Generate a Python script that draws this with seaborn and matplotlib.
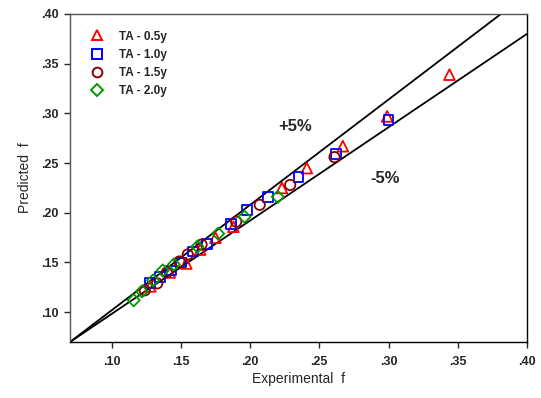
import matplotlib
matplotlib.use("Agg")
import matplotlib.pyplot as plt
from matplotlib.lines import Line2D
from matplotlib.ticker import FuncFormatter
import numpy as np
import pandas as pd
import seaborn as sns

# ---- data ----
ta05_x = [0.344, 0.299, 0.267, 0.241, 0.223, 0.188, 0.175, 0.164, 0.154, 0.142, 0.128]
ta05_y = [0.339, 0.297, 0.267, 0.245, 0.225, 0.186, 0.175, 0.163, 0.149, 0.140, 0.126]

ta10_x = [0.300, 0.262, 0.235, 0.213, 0.198, 0.186, 0.169, 0.159, 0.150, 0.143, 0.135, 0.128]
ta10_y = [0.293, 0.259, 0.236, 0.216, 0.203, 0.189, 0.169, 0.161, 0.150, 0.142, 0.135, 0.129]

ta15_x = [0.261, 0.229, 0.207, 0.190, 0.165, 0.155, 0.149, 0.140, 0.133, 0.124]
ta15_y = [0.256, 0.228, 0.208, 0.191, 0.168, 0.158, 0.151, 0.140, 0.129, 0.122]

ta20_x = [0.220, 0.196, 0.177, 0.162, 0.145, 0.137, 0.130, 0.122, 0.116]
ta20_y = [0.216, 0.196, 0.179, 0.166, 0.148, 0.142, 0.132, 0.121, 0.112]

labels = ["TA - 0.5y", "TA - 1.0y", "TA - 1.5y", "TA - 2.0y"]
markers = ["^", "s", "o", "D"]
colors = ["#ff0000", "#0000ff", "#8b0000", "#009900"]
sizes = [60, 50, 55, 38]

ticks = [0.10, 0.15, 0.20, 0.25, 0.30, 0.35, 0.40]
lim = (0.07, 0.40)
# +/-5% bounding lines: start at the axes corner, end at +5% / -5% of the axis max
band_x = [0.07, 0.40]
upper_y = [0.07, 0.42]
lower_y = [0.07, 0.38]

frames = []
for lab, xs, ys in zip(labels, [ta05_x, ta10_x, ta15_x, ta20_x], [ta05_y, ta10_y, ta15_y, ta20_y]):
    frames.append(pd.DataFrame({"exp": xs, "pred": ys, "series": lab}))
df = pd.concat(frames, ignore_index=True)

sns.set_style("white")
plt.rcParams["font.family"] = ["Liberation Sans", "DejaVu Sans"]

fig = plt.figure(figsize=(5.41, 3.98), dpi=100)
ax = fig.add_axes([70/541, 1-342/398, (527-70)/541, (342-14)/398])

ax.plot(band_x, upper_y, color="black", lw=1.3, zorder=1)
ax.plot(band_x, lower_y, color="black", lw=1.3, zorder=1)

for lab, m, c, s in zip(labels, markers, colors, sizes):
    sub = df[df["series"] == lab]
    sns.scatterplot(data=sub, x="exp", y="pred", marker=m, s=s,
                    facecolors="none", edgecolor=c, linewidth=1.3,
                    ax=ax, zorder=3, legend=False)

ax.set_xlim(*lim)
ax.set_ylim(*lim)
ax.set_xticks(ticks)
ax.set_yticks(ticks)
fmt = FuncFormatter(lambda v, p: ("%.2f" % v).lstrip("0"))
ax.xaxis.set_major_formatter(fmt)
ax.yaxis.set_major_formatter(fmt)
ax.tick_params(axis="both", direction="out", length=4, width=1, labelsize=9,
               bottom=True, left=True, top=False, right=False, pad=6)
ax.tick_params(axis="y", pad=4)
for t in ax.get_xticklabels() + ax.get_yticklabels():
    t.set_fontweight("bold")
for sp in ax.spines.values():
    sp.set_visible(True)
    sp.set_color("black")
    sp.set_linewidth(1.0)
ax.spines["top"].set_color("#555555")
ax.spines["left"].set_color("#555555")

ax.set_xlabel("Experimental  f", fontsize=10, labelpad=3)
ax.set_ylabel("Predicted  f", fontsize=10, labelpad=7)

ax.text(0.2325, 0.2873, "+5%", fontsize=12, fontweight="bold", ha="center", va="center")
ax.text(0.2974, 0.235, "-5%", fontsize=12, fontweight="bold", ha="center", va="center")

handles = [Line2D([], [], marker=m, ls="none", mfc="none", mec=c, mew=1.4,
                  ms=7 if m != "D" else 6) for m, c in zip(markers, colors)]
leg = ax.legend(handles, labels, loc="upper left", frameon=False,
                bbox_to_anchor=(0.01, 0.982), handletextpad=0.9,
                labelspacing=0.52, prop={"weight": "bold", "size": 8.5})

ax.set_facecolor("white")
fig.patch.set_facecolor("white")
fig.savefig("out.png", dpi=100)
